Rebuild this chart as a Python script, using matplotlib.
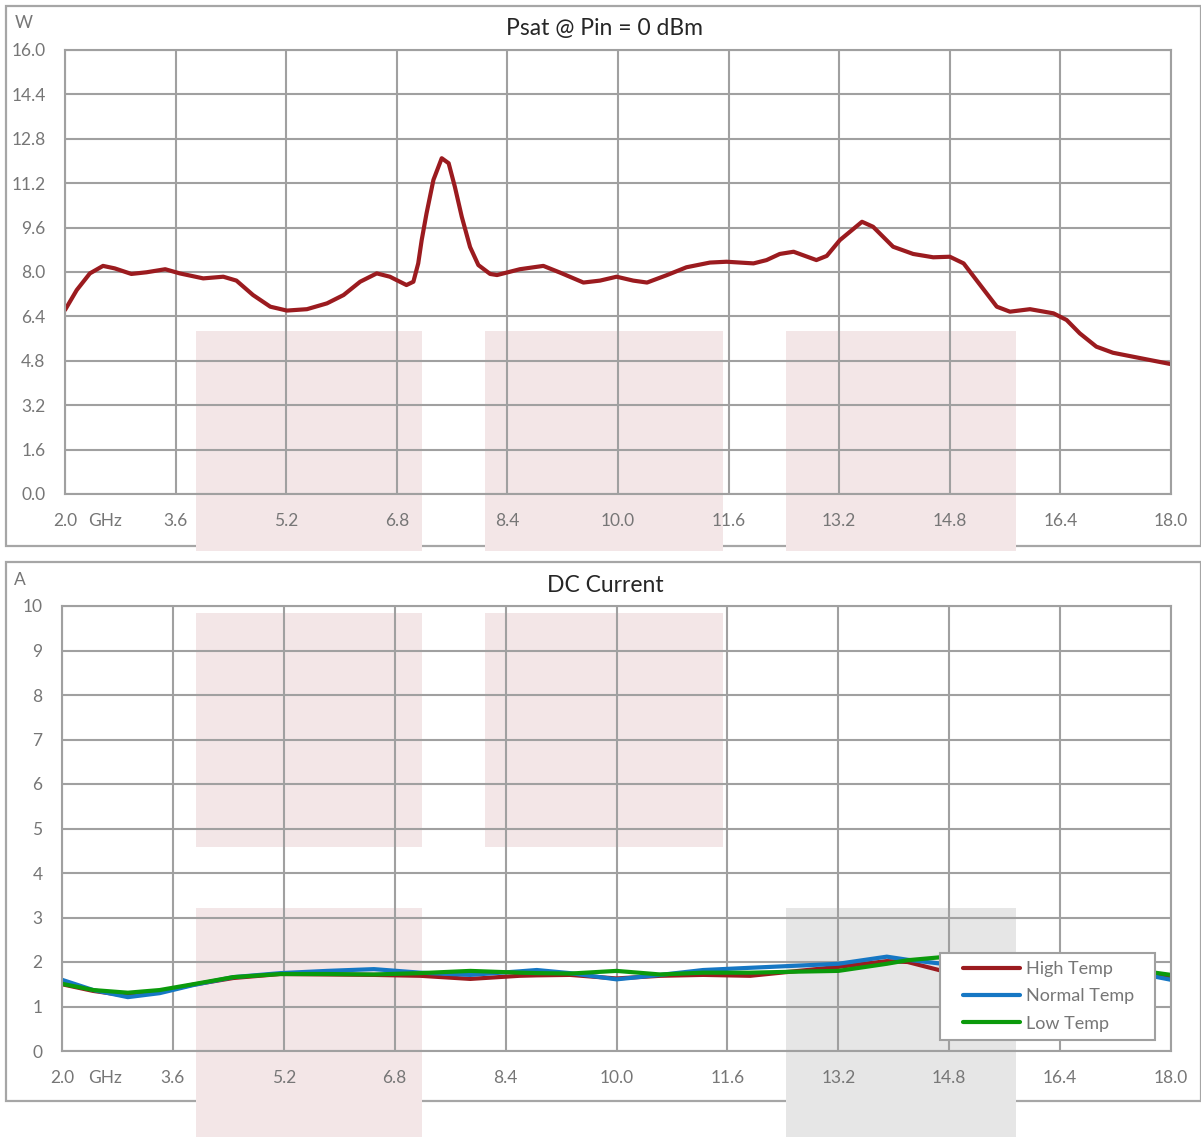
"""Psat and DC current vs frequency, two stacked panels."""

import matplotlib.pyplot as plt
from matplotlib.legend_handler import HandlerLine2D
from matplotlib.lines import Line2D
from matplotlib.patches import Rectangle

# ---- data -------------------------------------------------------------
psat_freq = [2.0, 2.17, 2.36, 2.55, 2.72, 2.96, 3.18, 3.45, 3.66, 4.0, 4.29, 4.48,
             4.72, 4.97, 5.21, 5.5, 5.79, 6.03, 6.27, 6.51, 6.7, 6.94, 7.04, 7.11,
             7.16, 7.23, 7.33, 7.45, 7.55, 7.64, 7.74, 7.86, 7.98, 8.15, 8.25,
             8.58, 8.92, 9.16, 9.5, 9.74, 9.98, 10.22, 10.42, 10.71, 10.99, 11.33,
             11.57, 11.96, 12.15, 12.34, 12.54, 12.87, 13.02, 13.21, 13.53, 13.69,
             13.98, 14.27, 14.56, 14.8, 15.0, 15.24, 15.48, 15.67, 15.96, 16.3,
             16.49, 16.68, 16.92, 17.16, 17.65, 18.0]
psat_w = [6.63, 7.35, 7.95, 8.22, 8.13, 7.93, 7.99, 8.10, 7.95, 7.77, 7.83, 7.69,
          7.17, 6.75, 6.61, 6.66, 6.87, 7.17, 7.65, 7.95, 7.83, 7.53, 7.65, 8.31,
          9.15, 10.11, 11.32, 12.1, 11.92, 11.07, 9.99, 8.9, 8.25, 7.93, 7.89,
          8.10, 8.22, 7.98, 7.62, 7.69, 7.83, 7.69, 7.62, 7.89, 8.17, 8.34,
          8.37, 8.31, 8.43, 8.65, 8.73, 8.43, 8.58, 9.15, 9.81, 9.63,
          8.91, 8.65, 8.53, 8.55, 8.31, 7.53, 6.75, 6.57, 6.66, 6.51,
          6.27, 5.79, 5.31, 5.09, 4.85, 4.68]

dc_freq = [2.0, 2.45, 2.95, 3.41, 3.89, 4.47, 5.15, 5.82, 6.5, 7.17, 7.89, 8.6,
           8.85, 9.33, 10.0, 10.63, 11.25, 11.93, 12.5, 13.2, 13.9, 14.2, 14.7,
           15.3, 16.0, 17.0, 17.77, 18.0]
dc_high = [1.50, 1.35, 1.24, 1.33, 1.49, 1.64, 1.73, 1.72, 1.71, 1.69, 1.62, 1.69,
           1.70, 1.71, 1.63, 1.69, 1.71, 1.69, 1.78, 1.89, 2.02, 2.00, 1.80,
           1.74, 1.72, 1.70, 1.70, 1.68]
dc_normal = [1.60, 1.37, 1.21, 1.30, 1.48, 1.66, 1.75, 1.80, 1.84, 1.76, 1.71, 1.79,
             1.82, 1.75, 1.61, 1.71, 1.82, 1.87, 1.91, 1.96, 2.12, 2.05, 1.96,
             1.90, 1.82, 1.72, 1.67, 1.60]
dc_low = [1.51, 1.37, 1.31, 1.37, 1.50, 1.66, 1.73, 1.73, 1.72, 1.75, 1.80, 1.76,
          1.75, 1.74, 1.80, 1.72, 1.76, 1.76, 1.78, 1.80, 1.96, 2.04, 2.11,
          2.05, 1.92, 1.82, 1.76, 1.71]

x_ticks = [2.0, 3.6, 5.2, 6.8, 8.4, 10.0, 11.6, 13.2, 14.8, 16.4, 18.0]
psat_ticks = [0.0, 1.6, 3.2, 4.8, 6.4, 8.0, 9.6, 11.2, 12.8, 14.4, 16.0]
dc_ticks = list(range(0, 11))

# ---- style ------------------------------------------------------------
W, H = 1201, 1137
GRID = "#a0a0a0"
TXT = "#767676"
RED = "#9b1b1f"
BLUE = "#1677c4"
GREEN = "#0b9a0b"
PINK = "#f3e6e7"
GREY = "#e6e6e6"
FS = 12.5

plt.rcParams["font.family"] = ["Lato", "DejaVu Sans"]


def fbox(x0, y0, x1, y1):
    """pixel box (top-left origin) -> figure fraction [l, b, w, h]"""
    return [x0 / W, 1 - y1 / H, (x1 - x0) / W, (y1 - y0) / H]


fig = plt.figure(figsize=(W / 100, H / 100), dpi=100)

# panel frames
for box in [(6, 6, 1201, 546), (6, 562, 1201, 1101)]:
    l, b, w, h = fbox(*box)
    fig.patches.append(Rectangle((l, b), w, h, transform=fig.transFigure,
                                 fill=False, edgecolor="#a6a6a6", lw=1.6, zorder=-3))

# watermark blocks
blocks = [
    ((196, 331, 422, 551), PINK), ((485, 331, 723, 551), PINK), ((786, 331, 1016, 551), PINK),
    ((196, 613, 422, 847), PINK), ((485, 613, 723, 847), PINK),
    ((196, 908, 422, 1137), PINK), ((786, 908, 1016, 1137), GREY),
]
for box, col in blocks:
    l, b, w, h = fbox(*box)
    fig.patches.append(Rectangle((l, b), w, h, transform=fig.transFigure,
                                 facecolor=col, edgecolor="none", zorder=-2))


def style_axes(ax, yticks, ylabels, ymax, ghz_x):
    ax.set_facecolor("none")
    ax.set_xlim(2.0, 18.0)
    ax.set_ylim(0, ymax)
    ax.set_xticks(x_ticks)
    ax.set_xticklabels([f"{t:.1f}" for t in x_ticks])
    ax.set_yticks(yticks)
    ax.set_yticklabels(ylabels)
    ax.grid(True, color=GRID, lw=1.5)
    ax.set_axisbelow(True)
    for s in ax.spines.values():
        s.set_color(GRID)
        s.set_linewidth(1.5)
    ax.tick_params(length=0, labelsize=FS, labelcolor=TXT)
    ax.tick_params(axis="y", pad=14)
    ax.tick_params(axis="x", pad=14)
    ax.text(ghz_x, -0.06, "GHz", transform=ax.get_xaxis_transform(),
            ha="left", va="center", fontsize=FS, color=TXT)


# ---- top: Psat ---------------------------------------------------------
ax1 = fig.add_axes(fbox(65, 50, 1171, 494))
style_axes(ax1, psat_ticks, [f"{t:.1f}" for t in psat_ticks], 16.0, 2.34)
ax1.plot(psat_freq, psat_w, color=RED, lw=3, solid_joinstyle="round", solid_capstyle="round")
fig.text(605 / W, 1 - 29 / H, "Psat @ Pin = 0 dBm", ha="center", va="center",
         fontsize=16.5, color="#262626")
fig.text(15 / W, 1 - 23 / H, "W", ha="left", va="center", fontsize=FS, color=TXT)

# ---- bottom: DC current ------------------------------------------------
ax2 = fig.add_axes(fbox(62, 606, 1171, 1051))
style_axes(ax2, dc_ticks, [str(t) for t in dc_ticks], 10, 2.37)
for vals, col, lab in [(dc_high, RED, "High Temp"), (dc_normal, BLUE, "Normal Temp"),
                       (dc_low, GREEN, "Low Temp")]:
    ax2.plot(dc_freq, vals, color=col, lw=3, label=lab,
             solid_joinstyle="round", solid_capstyle="round")
fig.text(605 / W, 1 - 585 / H, "DC Current", ha="center", va="center",
         fontsize=16.5, color="#262626")
fig.text(14 / W, 1 - 580 / H, "A", ha="left", va="center", fontsize=FS, color=TXT)

leg = ax2.legend(loc="upper left", bbox_to_anchor=fbox(940, 953, 1155, 1037),
                 bbox_transform=fig.transFigure, mode="expand",
                 frameon=True, fancybox=False, framealpha=1, fontsize=13,
                 labelcolor=TXT, handlelength=4.0, handletextpad=0.3,
                 labelspacing=0.62, borderpad=0.45, borderaxespad=0,
                 handler_map={Line2D: HandlerLine2D(xpad=0.85)})
leg.get_frame().set_edgecolor(GRID)
leg.get_frame().set_linewidth(1.5)
leg.get_frame().set_facecolor("white")

fig.savefig("out.png", dpi=100)
